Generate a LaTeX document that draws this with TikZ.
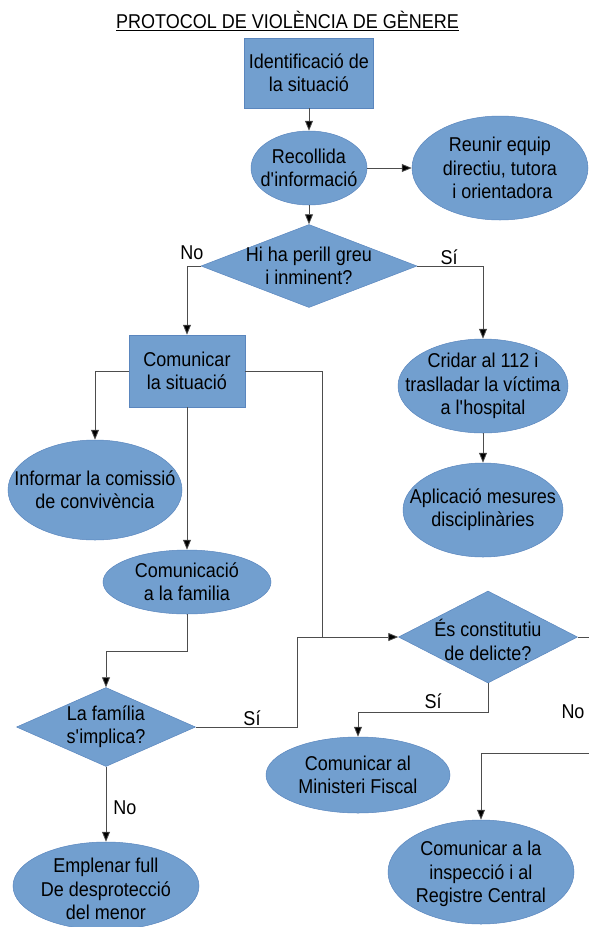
\documentclass[tikz,border=0pt]{standalone}
\usepackage{fontspec}
\setmainfont{Liberation Sans}[FakeStretch=0.9]
\usetikzlibrary{shapes.geometric,arrows.meta}
\definecolor{boxfill}{HTML}{729FCF}
\definecolor{boxedge}{HTML}{5A86BE}
\definecolor{linec}{HTML}{4D4D4D}
\newcommand{\apo}{\textquotesingle}
\begin{document}
\begin{tikzpicture}[x=1pt,y=-1pt,
  every node/.style={font=\fontsize{20}{23.3}\selectfont},
  proc/.style={rectangle, fill=boxfill, draw=boxedge, line width=0.5pt, inner sep=0pt},
  term/.style={ellipse, fill=boxfill, draw=boxedge, line width=0.5pt, inner sep=0pt},
  dec/.style={diamond, fill=boxfill, draw=boxedge, line width=0.5pt, inner sep=0pt},
  txt/.style={align=center, inner sep=0pt},
  conn/.style={draw=linec, line width=0.8pt},
  arr/.style={conn, -{Triangle[length=10pt,width=8pt,fill=black]}},
  lbl/.style={inner sep=0pt}]
\useasboundingbox (0,0) rectangle (589,927);

% title
\node[txt] (title) at (287.5,21) {\underline{PROTOCOL DE VIOLÈNCIA DE GÈNERE}};

% boxes
\node[proc, minimum width=129pt, minimum height=70pt] (b1) at (309,73) {};
\node[txt] (b1t) at (b1) {Identificació de\\la situació};
\node[proc, minimum width=116pt, minimum height=72pt] (b2) at (187,371) {};
\node[txt] (b2t) at (b2) {Comunicar\\la situació};

% ellipses
\node[term, minimum width=116pt, minimum height=74pt] (e1) at (309,168) {};
\node[txt] (e1t) at (e1) {Recollida\\d\apo informació};
\node[term, minimum width=176pt, minimum height=104pt] (e2) at (500,168) {};
\node[txt] (e2t) at (e2) {Reunir equip\\directiu, tutora\\\ i orientadora};
\node[term, minimum width=170pt, minimum height=94pt] (e3) at (483,386) {};
\node[txt] (e3t) at (e3) {Cridar al 112 i\\traslladar la víctima\\a l\apo hospital};
\node[term, minimum width=174pt, minimum height=100pt] (e4) at (95,490) {};
\node[txt] (e4t) at (e4) {Informar la comissió\\de convivència};
\node[term, minimum width=168pt, minimum height=64pt] (e5) at (187,582) {};
\node[txt] (e5t) at (e5) {Comunicació\\a la familia};
\node[term, minimum width=186pt, minimum height=88pt] (e6) at (106,886) {};
\node[txt] (e6t) at (106,889) {Emplenar full\\De desprotecció\\del menor};
\node[term, minimum width=160pt, minimum height=94pt] (e7) at (483,510) {};
\node[txt] (e7t) at (e7) {Aplicació mesures\\disciplinàries};
\node[term, minimum width=184pt, minimum height=76pt] (e8) at (358,775) {};
\node[txt] (e8t) at (e8) {Comunicar al\\Ministeri Fiscal};
\node[term, minimum width=186pt, minimum height=104pt] (e9) at (481,872) {};
\node[txt] (e9t) at (481,874) {Comunicar a la\\inspecció i al\\Registre Central};

% diamonds
\node[dec, minimum width=216pt, minimum height=83pt] (d1) at (309,266) {};
\node[txt] (d1t) at (d1) {Hi ha perill greu\\i inminent?};
\node[dec, minimum width=179pt, minimum height=79pt] (d2) at (106,727) {};
\node[txt] (d2t) at (d2) {La família\\s\apo implica?};
\node[dec, minimum width=179pt, minimum height=92pt] (d3) at (488,637) {};
\node[txt] (d3t) at (488,640) {És constitutiu\\de delicte?};

% helper coordinates
\coordinate (j1) at (322,637);
\coordinate (j2) at (297,637);
\coordinate (k1) at (106,651);
\coordinate (k2) at (488,712);
\coordinate (r1) at (589,637);
\coordinate (r2) at (589,753);

% connectors
\draw[arr] (b1.south) -- (e1.north);
\draw[arr] (e1.east) -- (e2.west);
\draw[arr] (e1.south) -- (d1.north);
\draw[arr] (d1.west) -| (b2.north);
\draw[arr] (d1.east) -| (e3.north);
\draw[arr] (b2.west) -| (e4.north);
\draw[arr] (b2.south) -- (e5.north);
\draw[conn] (b2.east) -| (j1);
\draw[arr] (e5.south) |- (k1) -- (d2.north);
\draw[arr] (d2.east) -| (j2) -- (d3.west);
\draw[arr] (d2.south) -- (e6.north);
\draw[arr] (e3.south) -- (e7.north);
\draw[arr] (d3.south) -- (k2) -| (e8.north);
\draw[conn] (d3.east) -- (r1);
\draw[arr] (r2) -| (e9.north);

% labels
\node[lbl] (l1) at (192,253) {No};
\node[lbl] (l2) at (449,257) {Sí};
\node[lbl] (l3) at (252,718) {Sí};
\node[lbl] (l4) at (125,808) {No};
\node[lbl] (l5) at (433,701) {Sí};
\node[lbl] (l6) at (573,712) {No};
\end{tikzpicture}
\end{document}
